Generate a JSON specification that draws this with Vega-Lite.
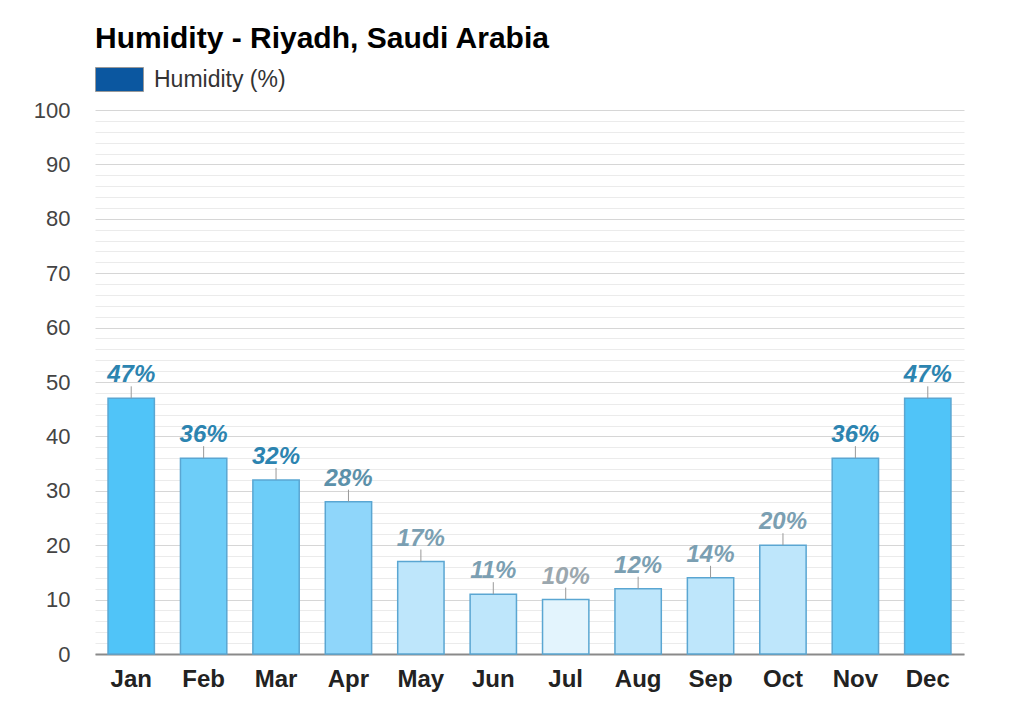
{
  "$schema": "https://vega.github.io/schema/vega-lite/v6.json",
  "autosize": {"type": "none"},
  "width": 869,
  "height": 544,
  "padding": {"left": 95, "top": 110, "right": 47, "bottom": 56},
  "background": "#ffffff",
  "config": {
    "font": "Liberation Sans",
    "view": {"stroke": null}
  },
  "title": {
    "text": "Humidity - Riyadh, Saudi Arabia",
    "anchor": "start",
    "frame": "group",
    "font": "Liberation Sans",
    "fontSize": 30,
    "fontWeight": "bold",
    "color": "#000000",
    "offset": 1
  },
  "data": {
    "values": [
      {"month": "Jan", "humidity": 47},
      {"month": "Feb", "humidity": 36},
      {"month": "Mar", "humidity": 32},
      {"month": "Apr", "humidity": 28},
      {"month": "May", "humidity": 17},
      {"month": "Jun", "humidity": 11},
      {"month": "Jul", "humidity": 10},
      {"month": "Aug", "humidity": 12},
      {"month": "Sep", "humidity": 14},
      {"month": "Oct", "humidity": 20},
      {"month": "Nov", "humidity": 36},
      {"month": "Dec", "humidity": 47}
    ]
  },
  "encoding": {
    "x": {
      "field": "month",
      "type": "nominal",
      "sort": null,
      "scale": {"paddingInner": 0.36, "paddingOuter": 0.18},
      "axis": {
        "title": null,
        "labelAngle": 0,
        "labelFont": "Liberation Sans",
        "labelFontSize": 24,
        "labelFontWeight": "bold",
        "labelColor": "#222222",
        "labelPadding": 13,
        "ticks": false,
        "domain": true,
        "domainColor": "#8a8a8a",
        "domainWidth": 2,
        "grid": false
      }
    },
    "y": {
      "field": "humidity",
      "type": "quantitative",
      "scale": {"domain": [0, 100], "nice": false},
      "axis": {
        "title": null,
        "values": [0,2,4,6,8,10,12,14,16,18,20,22,24,26,28,30,32,34,36,38,40,42,44,46,48,50,52,54,56,58,60,62,64,66,68,70,72,74,76,78,80,82,84,86,88,90,92,94,96,98,100],
        "labelExpr": "datum.value % 10 === 0 ? datum.label : ''",
        "labelFont": "Liberation Sans",
        "labelFontSize": 22,
        "labelColor": "#444444",
        "labelPadding": 25,
        "ticks": false,
        "domain": false,
        "grid": true,
        "gridColor": {"condition": {"test": "datum.value % 10 === 0", "value": "#d6d6d6"}, "value": "#ebebeb"},
        "gridWidth": 1
      }
    }
  },
  "layer": [
    {
      "mark": {"type": "bar", "stroke": "#5aa6d2", "strokeWidth": 1.5},
      "encoding": {
        "fill": {
          "field": "humidity",
          "type": "quantitative",
          "scale": {"type": "threshold", "domain": [10.5, 21, 30, 40], "range": ["#e3f4fd", "#bee6fb", "#8fd6fa", "#6dcdf8", "#50c4f8"]},
          "legend": null
        }
      }
    },
    {
      "mark": {"type": "rule", "strokeWidth": 1, "y2Offset": -12},
      "encoding": {
        "y2": {"field": "humidity"},
        "color": {
          "datum": "Humidity (%)",
          "scale": {"range": ["#999999"]},
          "legend": {
            "title": null,
            "orient": "none",
            "legendX": 0,
            "legendY": -55,
            "padding": 0,
            "symbolType": "M-1,-0.5H1V0.5H-1Z",
            "symbolSize": 2304,
            "symbolStrokeWidth": 1,
            "labelFont": "Liberation Sans",
            "labelFontSize": 23,
            "labelColor": "#333333",
            "labelOffset": 10,
            "encode": {
              "symbols": {"update": {"fill": {"value": "#0b57a0"}, "stroke": {"value": "#2a6fb0"}, "opacity": {"value": 1}}}
            }
          }
        }
      }
    },
    {
      "mark": {"type": "text", "font": "Liberation Sans", "fontSize": 24, "fontWeight": "bold", "fontStyle": "italic", "baseline": "alphabetic", "dy": -16, "text": {"expr": "datum.humidity + '%'"}},
      "encoding": {
        "fill": {
          "field": "humidity",
          "type": "quantitative",
          "scale": {"type": "threshold", "domain": [10.5, 21, 30], "range": ["#9ba7ae", "#7b9fb2", "#5c91aa", "#2c84b0"]},
          "legend": null
        }
      }
    }
  ],
  "resolve": {"scale": {"fill": "independent"}}
}
